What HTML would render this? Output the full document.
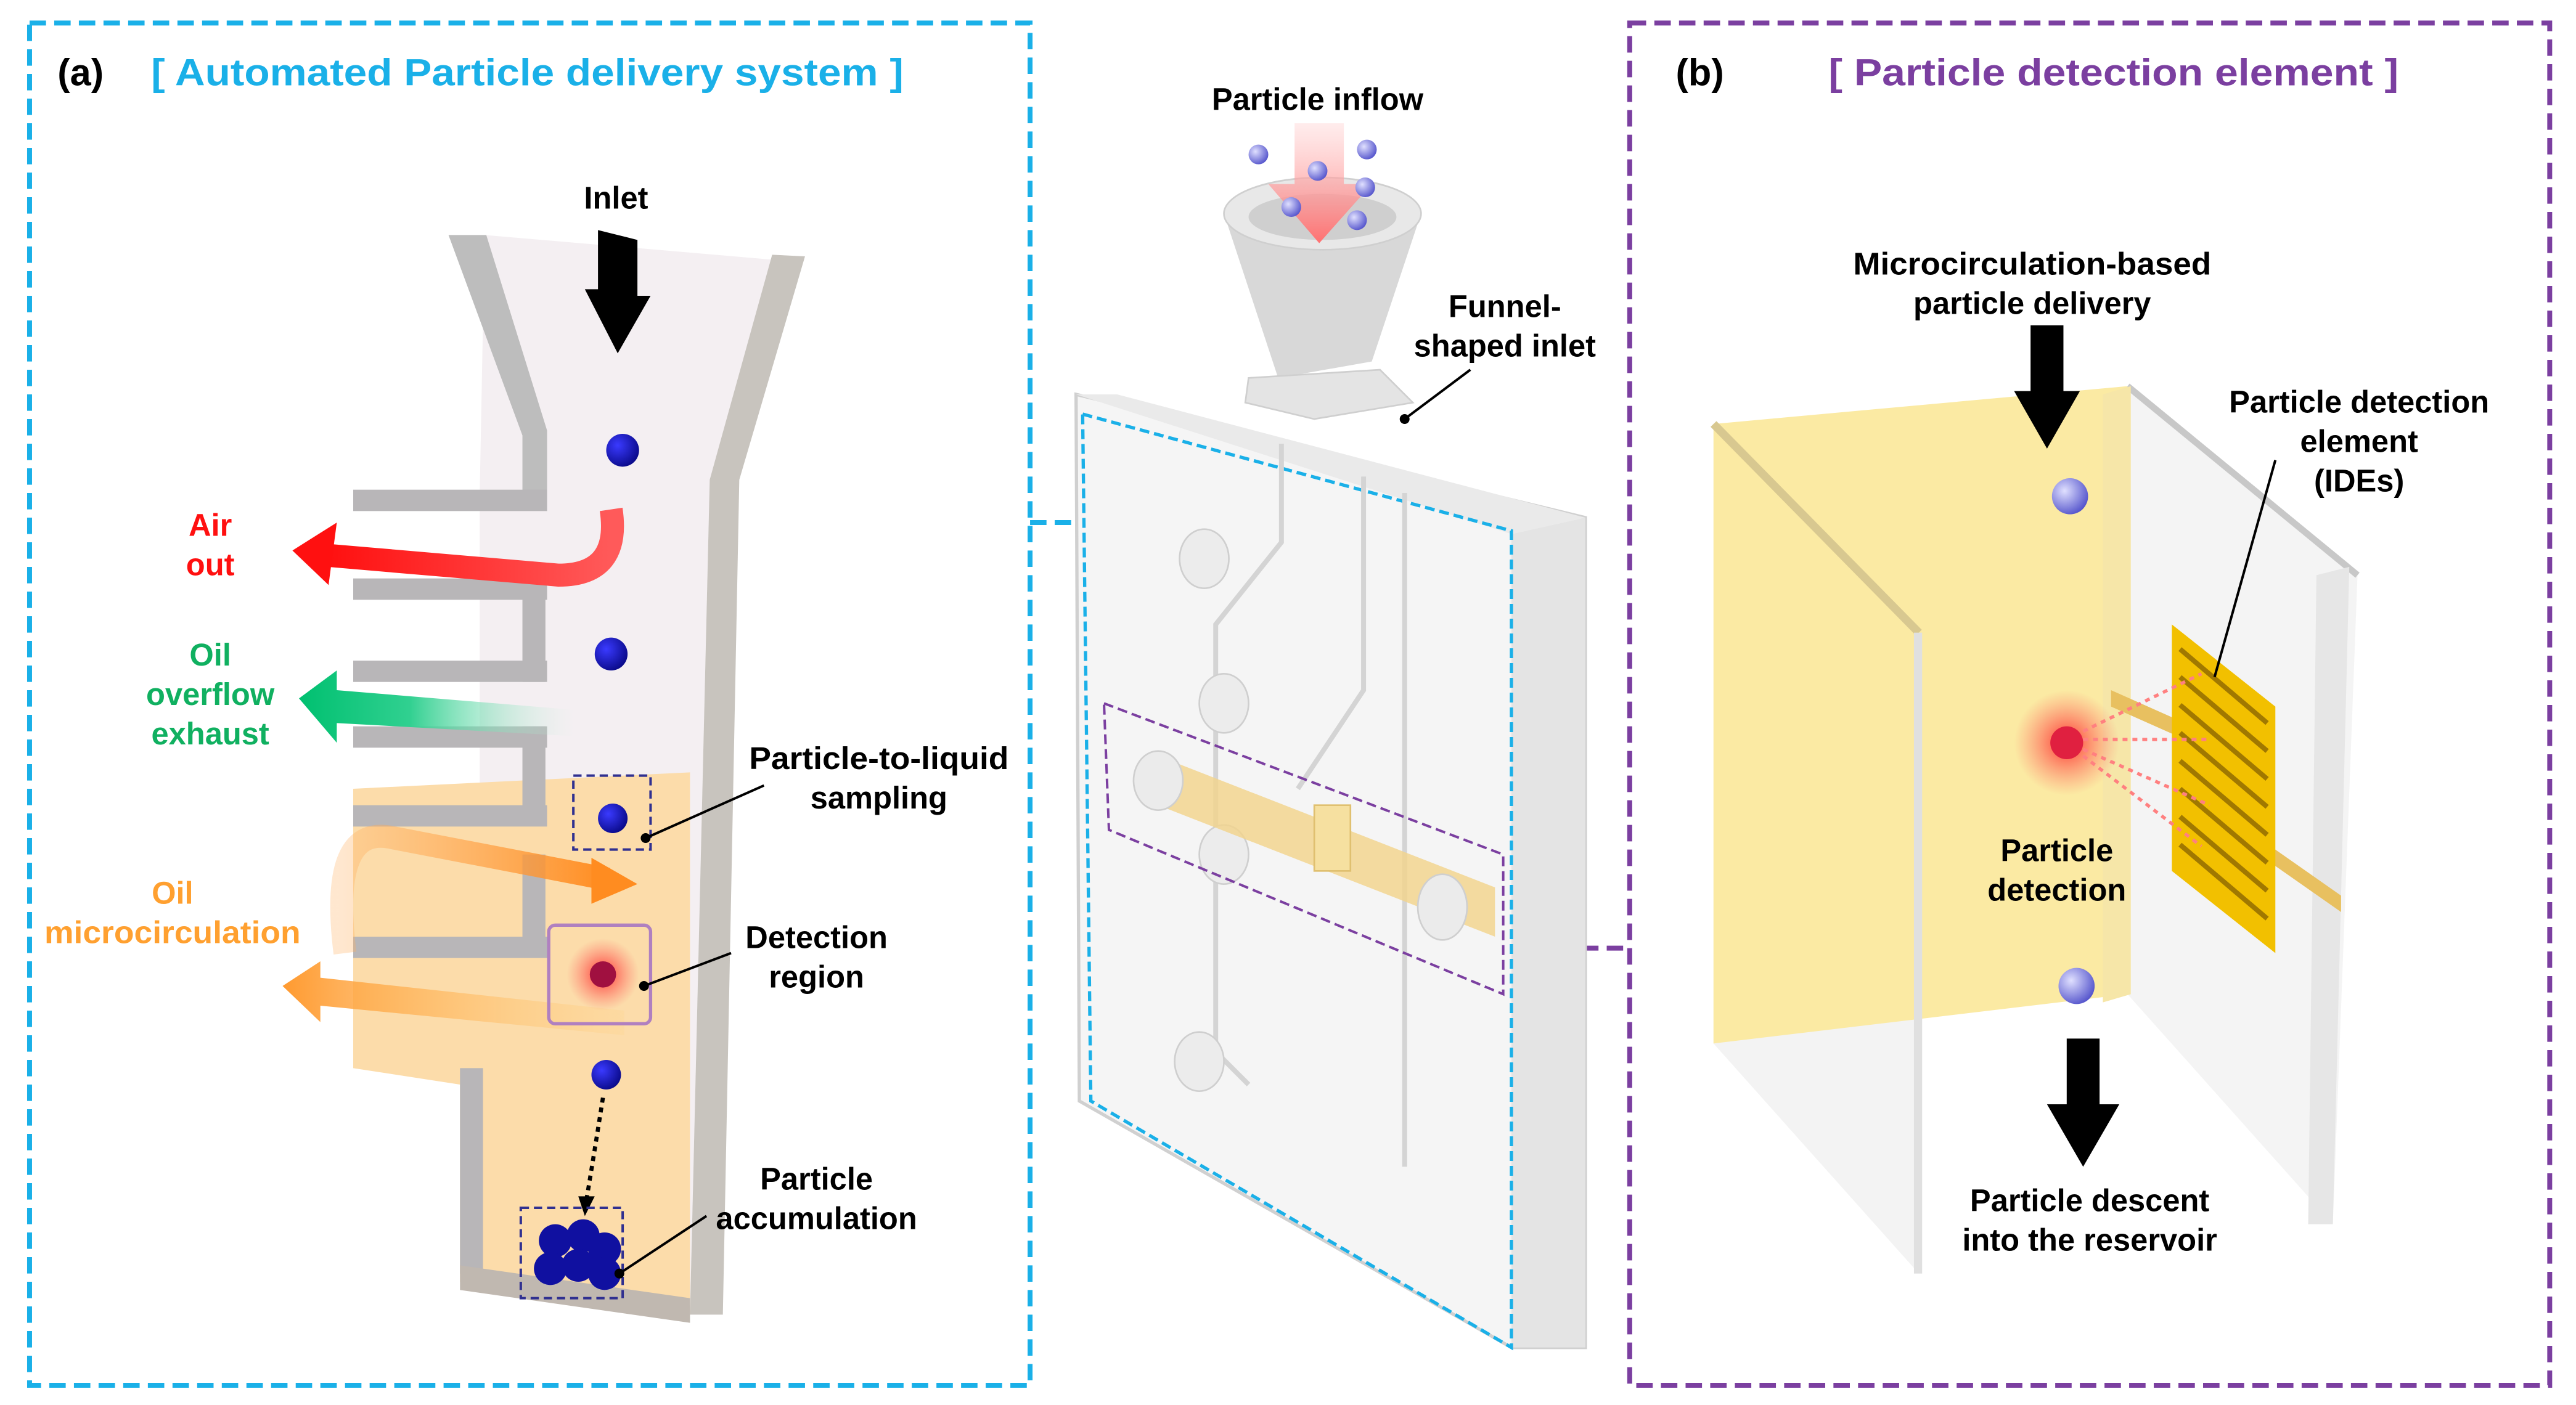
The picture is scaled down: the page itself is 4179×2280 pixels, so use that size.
<!DOCTYPE html>
<html><head><meta charset="utf-8"><style>
html,body{margin:0;padding:0;background:#fff}
svg{display:block}
text{font-family:"Liberation Sans",Arial,sans-serif;font-weight:bold}
</style></head><body>
<svg width="4179" height="2280" viewBox="0 0 1568 855" preserveAspectRatio="none" xmlns="http://www.w3.org/2000/svg">
<defs>
<radialGradient id="ball" cx="35%" cy="35%" r="70%"><stop offset="0" stop-color="#3a3aff"/><stop offset="1" stop-color="#0a0a8a"/></radialGradient>
<radialGradient id="lball" cx="35%" cy="35%" r="70%"><stop offset="0" stop-color="#e0e0ff"/><stop offset="1" stop-color="#5555cc"/></radialGradient>
<radialGradient id="glow" cx="50%" cy="50%" r="50%"><stop offset="0" stop-color="#ff2020" stop-opacity="0.9"/><stop offset="1" stop-color="#ff6060" stop-opacity="0"/></radialGradient>
<linearGradient id="green" x1="0" x2="1"><stop offset="0" stop-color="#00c070"/><stop offset="0.4" stop-color="#30d090"/><stop offset="1" stop-color="#d0f0e0" stop-opacity="0"/></linearGradient>
<linearGradient id="red" x1="0" x2="1"><stop offset="0" stop-color="#ff1010"/><stop offset="1" stop-color="#ff5a5a"/></linearGradient>
<linearGradient id="pinkdown" x1="0" y1="0" x2="0" y2="1"><stop offset="0" stop-color="#ffd0d0" stop-opacity="0.4"/><stop offset="1" stop-color="#ff7070"/></linearGradient>
<linearGradient id="orng" x1="0" x2="1"><stop offset="0" stop-color="#ffb060" stop-opacity="0.3"/><stop offset="1" stop-color="#ff8c20"/></linearGradient>
<linearGradient id="orngL" x1="1" x2="0"><stop offset="0" stop-color="#ffd080" stop-opacity="0.2"/><stop offset="1" stop-color="#ff9a30"/></linearGradient>
</defs>

<rect x="18" y="14" width="609" height="829" fill="none" stroke="#1ab0e8" stroke-width="3" stroke-dasharray="10,5"/>
<rect x="992" y="14" width="560" height="829" fill="none" stroke="#7b3fa0" stroke-width="3" stroke-dasharray="10,5"/>
<line x1="627" y1="318" x2="657" y2="318" stroke="#1ab0e8" stroke-width="3" stroke-dasharray="10,5"/>
<line x1="918" y1="577" x2="992" y2="577" stroke="#7b3fa0" stroke-width="3" stroke-dasharray="10,5"/>

<text x="35" y="52" font-size="23" fill="#000">(a)</text>
<text x="92" y="52" font-size="23" fill="#1ab0e8" textLength="458" lengthAdjust="spacingAndGlyphs">[ Automated Particle delivery system ]</text>
<text x="1020" y="52" font-size="23" fill="#000">(b)</text>
<text x="1113" y="52" font-size="23" fill="#7b3fa0" textLength="347" lengthAdjust="spacingAndGlyphs">[ Particle detection element ]</text>

<!-- LEFT channel -->
<polygon points="295,143 470,158 432,292 420,800 292,782 292,300" fill="#f4eff2"/>
<polygon points="215,480 420,470 420,800 280,780 280,660 215,650" fill="#fcdcaa"/>
<polygon points="273,143 296,143 333,262 333,300 318,300 318,265" fill="#bdbdbd"/>
<polygon points="470,155 490,156 450,292 440,800 420,800 432,292" fill="#c8c4be"/>
<g fill="#b8b6b8">
<rect x="215" y="298" width="118" height="13"/>
<rect x="215" y="352" width="118" height="13"/><rect x="318" y="352" width="14" height="63"/>
<rect x="215" y="402" width="118" height="13"/>
<rect x="215" y="442" width="118" height="13"/><rect x="318" y="442" width="14" height="60"/>
<rect x="215" y="490" width="118" height="13"/>
<rect x="215" y="570" width="118" height="13"/><rect x="318" y="520" width="14" height="62"/>
<rect x="280" y="650" width="14" height="125"/>
</g>
<polygon points="280,770 420,790 420,805 280,785" fill="#c0b8b0"/>
<polygon points="364,140 388,146 388,180 396,180 376,215 356,176 364,176" fill="#000"/>
<path d="M372,310 Q378,350 340,350 L200,338" stroke="url(#red)" stroke-width="14" fill="none"/>
<polygon points="178,335 205,318 200,356" fill="#ff1010"/>
<polygon points="182,425 205,408 205,420 350,432 350,448 205,440 205,452" fill="url(#green)"/>
<path d="M210,580 Q200,500 240,510 L370,535" stroke="url(#orng)" stroke-width="14" fill="none"/>
<polygon points="388,538 360,522 360,550" fill="#ff8c20"/>
<polygon points="172,600 195,585 195,595 380,615 380,630 195,612 195,622" fill="url(#orngL)"/>
<text x="128" y="326" font-size="19" fill="#ff1010" text-anchor="middle">Air</text>
<text x="128" y="350" font-size="19" fill="#ff1010" text-anchor="middle">out</text>
<text x="128" y="405" font-size="19" fill="#10b060" text-anchor="middle">Oil</text>
<text x="128" y="429" font-size="19" fill="#10b060" text-anchor="middle">overflow</text>
<text x="128" y="453" font-size="19" fill="#10b060" text-anchor="middle">exhaust</text>
<text x="105" y="550" font-size="19" fill="#ffa030" text-anchor="middle">Oil</text>
<text x="105" y="574" font-size="19" fill="#ffa030" text-anchor="middle" textLength="156" lengthAdjust="spacingAndGlyphs">microcirculation</text>
<text x="375" y="127" font-size="19" fill="#000" text-anchor="middle">Inlet</text>
<circle cx="379" cy="274" r="10" fill="url(#ball)"/>
<circle cx="372" cy="398" r="10" fill="url(#ball)"/>
<rect x="349" y="472" width="47" height="45" fill="none" stroke="#303090" stroke-width="1.5" stroke-dasharray="5,3"/>
<circle cx="373" cy="498" r="9" fill="url(#ball)"/>
<rect x="334" y="563" width="62" height="60" rx="4" fill="none" stroke="#b080c0" stroke-width="2"/>
<circle cx="367" cy="593" r="22" fill="url(#glow)"/>
<circle cx="367" cy="593" r="8" fill="#a01040"/>
<circle cx="369" cy="654" r="9" fill="url(#ball)"/>
<path d="M367,668 Q362,700 357,730" stroke="#000" stroke-width="2.5" stroke-dasharray="3,3" fill="none"/>
<polygon points="352,728 362,728 356,740" fill="#000"/>
<rect x="317" y="735" width="62" height="55" fill="none" stroke="#303090" stroke-width="1.5" stroke-dasharray="5,3"/>
<g fill="#1010a0"><circle cx="338" cy="755" r="10"/><circle cx="355" cy="752" r="10"/><circle cx="368" cy="760" r="10"/><circle cx="335" cy="772" r="10"/><circle cx="352" cy="770" r="10"/><circle cx="368" cy="775" r="10"/></g>
<g stroke="#000" stroke-width="1.5"><line x1="393" y1="510" x2="465" y2="478"/><line x1="392" y1="600" x2="445" y2="580"/><line x1="377" y1="775" x2="430" y2="740"/></g>
<g fill="#000"><circle cx="393" cy="510" r="3"/><circle cx="392" cy="600" r="3"/><circle cx="377" cy="775" r="3"/></g>
<text x="535" y="468" font-size="19" text-anchor="middle" textLength="158" lengthAdjust="spacingAndGlyphs">Particle-to-liquid</text>
<text x="535" y="492" font-size="19" text-anchor="middle">sampling</text>
<text x="497" y="577" font-size="19" text-anchor="middle">Detection</text>
<text x="497" y="601" font-size="19" text-anchor="middle">region</text>
<text x="497" y="724" font-size="19" text-anchor="middle">Particle</text>
<text x="497" y="748" font-size="19" text-anchor="middle">accumulation</text>

<!-- MIDDLE chip -->
<polygon points="655,240 965,315 965,820 920,820 657,670" fill="#f5f5f5" stroke="#d0d0d0" stroke-width="2"/>
<polygon points="920,325 965,315 965,820 920,820" fill="#e4e4e4"/>
<polygon points="655,240 680,240 965,315 920,325" fill="#eaeaea"/>
<polygon points="659,252 920,323 920,820 664,670" fill="none" stroke="#1ab0e8" stroke-width="2" stroke-dasharray="6,3"/>
<g fill="none" stroke="#d4d4d4" stroke-width="3">
<path d="M780,270 L780,330 L740,380 L740,640 L760,660"/>
<path d="M830,290 L830,420 L790,480"/>
<path d="M855,300 L855,710"/>
</g>
<g fill="#ececec" stroke="#cfcfcf"><ellipse cx="733" cy="340" rx="15" ry="18"/><ellipse cx="745" cy="428" rx="15" ry="18"/><ellipse cx="745" cy="520" rx="15" ry="18"/><ellipse cx="730" cy="646" rx="15" ry="18"/></g>
<polygon points="705,460 910,540 910,570 705,490" fill="#f2d38a" opacity="0.8"/>
<g fill="#ebebeb" stroke="#cfcfcf"><ellipse cx="705" cy="475" rx="15" ry="18"/><ellipse cx="878" cy="552" rx="15" ry="20"/></g>
<rect x="800" y="490" width="22" height="40" fill="#f6e0a0" stroke="#e0c070"/>
<polygon points="672,428 915,520 915,605 675,505" fill="none" stroke="#7b3fa0" stroke-width="1.5" stroke-dasharray="6,3"/>
<polygon points="745,130 865,130 835,220 778,230" fill="#d8d8d8"/>
<ellipse cx="805" cy="130" rx="60" ry="22" fill="#e8e8e8" stroke="#cfcfcf"/>
<ellipse cx="805" cy="132" rx="45" ry="14" fill="#cfcfcf"/>
<polygon points="760,230 840,225 860,245 800,255 758,245" fill="#e4e4e4" stroke="#cfcfcf"/>
<polygon points="788,75 818,75 818,112 835,112 803,148 772,112 788,112" fill="url(#pinkdown)"/>
<g><circle cx="766" cy="94" r="6" fill="url(#lball)"/><circle cx="832" cy="91" r="6" fill="url(#lball)"/><circle cx="802" cy="104" r="6" fill="url(#lball)"/><circle cx="831" cy="114" r="6" fill="url(#lball)"/><circle cx="786" cy="126" r="6" fill="url(#lball)"/><circle cx="826" cy="134" r="6" fill="url(#lball)"/></g>
<text x="802" y="67" font-size="19" text-anchor="middle">Particle inflow</text>
<text x="916" y="193" font-size="19" text-anchor="middle">Funnel-</text>
<text x="916" y="217" font-size="19" text-anchor="middle">shaped inlet</text>
<line x1="855" y1="255" x2="895" y2="225" stroke="#000" stroke-width="1.5"/>
<circle cx="855" cy="255" r="3" fill="#000"/>

<!-- RIGHT -->
<polygon points="1295,235 1435,350 1420,745 1295,605" fill="#f3f3f3" opacity="0.9"/>
<line x1="1295" y1="235" x2="1435" y2="350" stroke="#c8c8c8" stroke-width="4"/>
<polygon points="1410,350 1430,345 1420,745 1405,745" fill="#e6e6e6"/>
<polygon points="1043,260 1168,385 1168,775 1043,635" fill="#f0f0f0" opacity="0.8"/>
<polygon points="1043,258 1295,235 1295,605 1043,635" fill="#fbeaa3"/>
<line x1="1043" y1="258" x2="1168" y2="385" stroke="#d8c890" stroke-width="5"/>
<rect x="1165" y="385" width="5" height="390" fill="#e0e0e0"/>
<polygon points="1280,240 1297,235 1297,605 1280,610" fill="#f6e6a8"/>
<polygon points="1285,420 1330,440 1330,450 1285,430" fill="#e8c060"/>
<polygon points="1375,510 1425,545 1425,555 1375,520" fill="#e8c060"/>
<polygon points="1322,380 1385,430 1385,580 1322,530" fill="#f2c000"/>
<g stroke="#a07800" stroke-width="3">
<line x1="1327" y1="395" x2="1380" y2="440"/><line x1="1327" y1="412" x2="1380" y2="457"/><line x1="1327" y1="429" x2="1380" y2="474"/><line x1="1327" y1="446" x2="1380" y2="491"/><line x1="1327" y1="463" x2="1380" y2="508"/><line x1="1327" y1="480" x2="1380" y2="525"/><line x1="1327" y1="497" x2="1380" y2="542"/><line x1="1327" y1="514" x2="1380" y2="559"/>
</g>
<circle cx="1258" cy="452" r="32" fill="url(#glow)"/>
<circle cx="1258" cy="452" r="10" fill="#e02040"/>
<g stroke="#ff8080" stroke-width="2" stroke-dasharray="3,3"><line x1="1268" y1="445" x2="1340" y2="410"/><line x1="1268" y1="450" x2="1345" y2="450"/><line x1="1268" y1="456" x2="1345" y2="490"/><line x1="1268" y1="460" x2="1340" y2="515"/></g>
<circle cx="1260" cy="302" r="11" fill="url(#lball)"/>
<circle cx="1264" cy="600" r="11" fill="url(#lball)"/>
<polygon points="1236,198 1256,198 1256,238 1266,238 1246,273 1226,238 1236,238" fill="#000"/>
<polygon points="1258,632 1278,632 1278,672 1290,672 1268,710 1246,672 1258,672" fill="#000"/>
<line x1="1385" y1="280" x2="1348" y2="412" stroke="#000" stroke-width="1.5"/>
<text x="1237" y="167" font-size="19" text-anchor="middle" textLength="218" lengthAdjust="spacingAndGlyphs">Microcirculation-based</text>
<text x="1237" y="191" font-size="19" text-anchor="middle">particle delivery</text>
<text x="1436" y="251" font-size="19" text-anchor="middle">Particle detection</text>
<text x="1436" y="275" font-size="19" text-anchor="middle">element</text>
<text x="1436" y="299" font-size="19" text-anchor="middle">(IDEs)</text>
<text x="1252" y="524" font-size="19" text-anchor="middle">Particle</text>
<text x="1252" y="548" font-size="19" text-anchor="middle">detection</text>
<text x="1272" y="737" font-size="19" text-anchor="middle">Particle descent</text>
<text x="1272" y="761" font-size="19" text-anchor="middle">into the reservoir</text>
</svg>
</body></html>
